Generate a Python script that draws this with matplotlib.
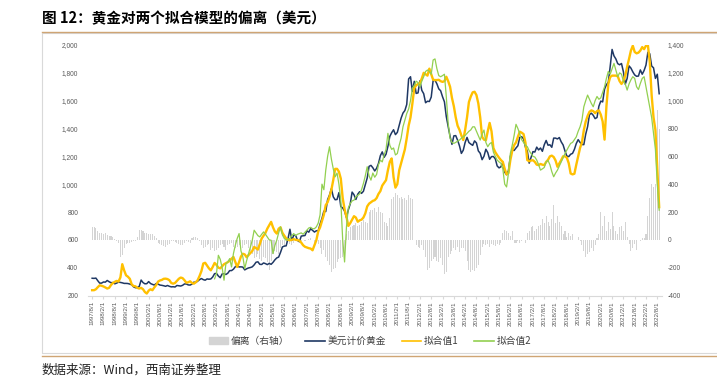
import numpy as np
import pandas as pd
import matplotlib
matplotlib.use("Agg")
import matplotlib.pyplot as plt
from matplotlib.patches import Patch, Rectangle
from matplotlib.lines import Line2D

plt.rcParams['font.family'] = ['Noto Sans CJK SC', 'DejaVu Sans']

# monthly data, 1997/8 .. 2022/9
months = pd.date_range("1997-08-01", "2022-09-01", freq="MS")

gold = [
    324, 323, 325, 306, 289,
    289, 297, 296, 308, 299, 292, 293, 284, 289, 296, 294, 291,
    287, 287, 286, 282, 277, 262, 256, 257, 265, 311, 293, 284,
    285, 300, 286, 280, 275, 286, 282, 275, 273, 270, 266, 272,
    266, 262, 263, 261, 272, 270, 268, 273, 283, 283, 276, 275,
    282, 296, 294, 303, 314, 322, 314, 310, 319, 317, 319, 333,
    357, 359, 340, 328, 355, 356, 351, 360, 379, 379, 389, 407,
    414, 405, 406, 404, 384, 392, 398, 401, 406, 420, 439, 442,
    424, 423, 434, 429, 422, 431, 424, 438, 456, 470, 476, 510,
    549, 555, 557, 610, 676, 596, 633, 632, 598, 586, 627, 629,
    631, 665, 655, 680, 668, 656, 665, 665, 713, 754, 806, 803,
    889, 922, 968, 909, 888, 890, 939, 839, 829, 806, 760, 816,
    858, 943, 924, 890, 928, 946, 934, 949, 996, 1044, 1128, 1135,
    1118, 1095, 1114, 1149, 1205, 1232, 1193, 1215, 1271, 1343, 1370, 1391,
    1356, 1372, 1424, 1474, 1511, 1529, 1573, 1756, 1772, 1666, 1739, 1652,
    1656, 1743, 1674, 1650, 1585, 1596, 1594, 1626, 1744, 1747, 1721, 1685,
    1671, 1628, 1592, 1485, 1414, 1343, 1286, 1347, 1349, 1316, 1275, 1221,
    1244, 1300, 1336, 1299, 1288, 1279, 1311, 1296, 1239, 1222, 1176, 1201,
    1251, 1227, 1179, 1198, 1199, 1182, 1131, 1117, 1125, 1157, 1086, 1068,
    1097, 1200, 1246, 1242, 1260, 1276, 1337, 1341, 1326, 1266, 1238, 1151,
    1192, 1234, 1231, 1266, 1246, 1260, 1236, 1283, 1314, 1280, 1283, 1265,
    1331, 1331, 1325, 1335, 1304, 1282, 1238, 1202, 1198, 1215, 1221, 1250,
    1292, 1320, 1300, 1285, 1284, 1359, 1413, 1500, 1510, 1495, 1471, 1479,
    1560, 1597, 1591, 1683, 1715, 1732, 1846, 1968, 1922, 1900, 1866, 1858,
    1867, 1808, 1718, 1760, 1850, 1834, 1807, 1785, 1775, 1777, 1821, 1790,
    1817, 1856, 1948, 1937, 1849, 1836, 1760, 1790, 1650,
]

fit1 = [
    238, 238, 245, 260, 273,
    270, 265, 258, 250, 255, 275, 290, 298, 305, 300, 330, 425,
    380, 345, 335, 320, 280, 268, 266, 255, 250, 255, 245, 225,
    214, 235, 245, 238, 258, 275, 300, 308, 312, 320, 321, 318,
    310, 290, 285, 290, 305, 320, 329, 325, 310, 292, 295, 302,
    290, 285, 295, 310, 340, 375, 430, 435, 415, 395, 381, 405,
    434, 420, 400, 395, 410, 425, 432, 440, 450, 465, 477, 440,
    405, 440, 480, 500, 495, 475, 490, 505, 520, 549, 540, 530,
    570, 610, 630, 650, 681, 705, 729, 690, 660, 645, 680, 690,
    650, 630, 610, 600, 597, 600, 605, 600, 598, 595, 580, 561,
    550, 545, 540, 537, 525, 560, 597, 660, 690, 735, 780, 850,
    870, 909, 960, 1030, 1110, 1110, 1090, 1040, 900, 820, 765, 700,
    720, 745, 770, 760, 730, 740, 745, 760, 790, 840, 860, 870,
    880, 885, 900, 930, 950, 990, 1010, 1029, 1100, 1160, 1185, 1050,
    975, 1000, 1100, 1150, 1197, 1250, 1330, 1420, 1480, 1580, 1690, 1710,
    1720, 1725, 1760, 1800, 1790, 1780, 1830, 1790, 1750, 1748, 1748, 1750,
    1740, 1735, 1740, 1772, 1740, 1700, 1620, 1560, 1480, 1420, 1390, 1350,
    1317, 1390, 1480, 1590, 1630, 1660, 1664, 1640, 1580, 1480, 1340, 1320,
    1315, 1380, 1440, 1380, 1260, 1230, 1209, 1190, 1173, 1160, 1110, 1070,
    1080, 1173, 1240, 1280, 1300, 1340, 1377, 1370, 1360, 1300, 1173, 1165,
    1170, 1172, 1160, 1140, 1137, 1145, 1140, 1137, 1160, 1175, 1200, 1205,
    1195, 1170, 1125, 1150, 1173, 1200, 1200, 1190, 1150, 1077, 1070, 1075,
    1140, 1200, 1260, 1300, 1388, 1450, 1490, 1520, 1530, 1525, 1510, 1525,
    1530, 1500, 1450, 1320, 1560, 1720, 1770, 1780, 1780, 1780, 1775, 1740,
    1720, 1740, 1780, 1844, 1900, 1960, 1995, 1950, 1940, 1945, 1960, 1985,
    1970, 1995, 2000, 1880, 1640, 1480, 1390, 1120, 835,
]

# second fit starts in 2003/1
fit2_start = "2003-01-01"
fit2 = [
    320, 357, 489, 460, 400, 310, 429, 440, 465, 405, 501, 561,
    610, 645, 520, 477, 393, 450, 500, 549, 597, 669, 650, 630,
    621, 640, 657, 640, 620, 600, 597, 501, 560, 597, 650, 693,
    635, 610, 597, 605, 610, 630, 645, 630, 640, 645, 650, 640,
    655, 669, 685, 690, 680, 680, 693, 720, 780, 1000, 960, 1100,
    1200, 1269, 1180, 1110, 1053, 1080, 1000, 880, 600, 441, 693, 830,
    860, 880, 885, 909, 920, 930, 960, 1005, 1060, 1125, 1060, 1029,
    1080, 1050, 1070, 1140, 1173, 1160, 1210, 1250, 1365, 1280, 1250, 1260,
    1210, 1220, 1280, 1330, 1412, 1460, 1508, 1540, 1600, 1690, 1710, 1740,
    1730, 1700, 1740, 1772, 1810, 1820, 1810, 1790, 1892, 1900, 1830, 1780,
    1772, 1780, 1790, 1628, 1436, 1330, 1300, 1293, 1300, 1310, 1317, 1330,
    1340, 1350, 1365, 1380, 1390, 1412, 1412, 1380, 1350, 1317, 1360, 1389,
    1300, 1269, 1290, 1300, 1230, 1200, 1173, 1160, 1150, 1110, 1000, 980,
    1080, 1221, 1280, 1350, 1430, 1400, 1360, 1320, 1300, 1280, 1269, 1240,
    1220, 1200, 1195, 1173, 1140, 1101, 1110, 1120, 1160, 1170, 1140, 1090,
    1053, 1080, 1101, 1130, 1160, 1190, 1220, 1245, 1270, 1293, 1300, 1320,
    1340, 1380, 1412, 1460, 1556, 1600, 1640, 1610, 1580, 1556, 1600, 1630,
    1610, 1620, 1660, 1700, 1760, 1810, 1790, 1830, 1868, 1820, 1772, 1800,
    1790, 1740, 1720, 1676, 1720, 1750, 1772, 1760, 1700, 1680, 1724, 1760,
    1772, 1700, 1628, 1560, 1480, 1365, 1250, 1000, 813,
]

deviation = [
    93, 90, 85, 60, 50,
    50, 45, 50, 35, 30, 30, 20, 5, -10, -20, -120, -110,
    -60, -30, -25, -20, -15, -10, -10, 20, 70, 74, 60, 50,
    50, 45, 40, 40, 30, 10, -20, -30, -40, -45, -50, -40,
    -30, -10, -10, -15, -20, -30, -40, -35, -20, -10, -15, -20,
    15, 20, 20, 15, -10, -40, -60, -50, -40, -30, -75, -60,
    -80, -70, -60, -40, -30, -50, -75, -40, -30, -20, -50, -60,
    -50, -40, -30, -60, -40, -30, -60, -80, -100, -130, -120, -100,
    -140, -150, -120, -130, -160, -218, -150, -100, -80, -90, -100, -60,
    -40, -50, -30, 0, -30, -40, -20, -10, -15, -10, -5, 0,
    -10, 0, 5, 10, 0, -20, -10, -30, -60, -100, -70, -120,
    -150, -180, -230, -210, -200, -160, -140, -130, -120, -100, 40, 60,
    93, 100, 110, 120, 100, 110, 130, 140, 130, 120, 200, 213,
    215, 230, 200, 237, 200, 190, 130, 120, 100, 160, 290, 310,
    333, 320, 300, 310, 290, 300, 285, 320, 300, 290, 0, -40,
    -50, -60, -40, -70, -120, -218, -200, -150, -140, -120, -150, -160,
    -130, -180, -242, -230, -120, -100, -80, -60, -70, -50, -90, -60,
    -60, -80, -150, -218, -230, -220, -225, -200, -180, -110, -50, -30,
    -40, -30, -50, -27, -40, -45, -30, -40, -20, 50, 70, 60,
    50, 30, 60, -20, -20, -10, -20, -10, 0, -20, 50, 60,
    90, 100, 60, 80, 100, 110, 150, 120, 170, 130, 100, 150,
    250, 120, 170, 130, 100, 40, 60, 20, 50, 30, 40, 0,
    0, 20, -10, -40, -80, -120, -100, -90, -60, -80, -40, 10,
    40, 201, 100, 170, 60, 130, 80, 200, 100, 60, 40, 90,
    100, 60, 130, 20, -30, -80, -60, -30, -70, 0, -10, 10,
    10, 40, 170, 300, 400, 380, 400, 930, 800,
]

tick_labels = [f"{d.year}/{d.month}/1" for d in months[::6]]

x = np.arange(len(months))
x2 = np.arange(months.get_loc(pd.Timestamp(fit2_start)), len(months))

W, H = 717, 386
fig = plt.figure(figsize=(W / 100, H / 100), dpi=100)
ax = fig.add_axes([88 / W, 1 - 295.5 / H, (662 - 88) / W, (295.5 - 45) / H])
ax2 = ax.twinx()

ax2.bar(x, deviation, width=0.55, color='#d4d4d4', linewidth=0)
ax.plot(x, gold, color='#1f3864', lw=1.1, label='美元计价黄金')
ax.plot(x, fit1, color='#ffc000', lw=1.7, label='拟合值1')
ax.plot(x2, fit2, color='#92d050', lw=0.9, label='拟合值2')

ax.set_zorder(ax2.get_zorder() + 1)
ax.patch.set_visible(False)

ax.set_xlim(-2.2, 302.5)
ax.set_ylim(200, 2000)
ax.set_yticks(range(200, 2001, 200))
ax.yaxis.set_major_formatter(lambda v, p: f"{int(v):,}")
ax2.set_ylim(-400, 1400)
ax2.set_yticks(range(-400, 1401, 200))
ax2.yaxis.set_major_formatter(lambda v, p: f"{int(v):,}")

ax.set_xticks(x[::6])
ax.set_xticklabels(tick_labels, rotation=90, fontsize=4.5, color='#595959',
                   family='Liberation Sans')
ax.tick_params(axis='x', length=2, color='#d9d9d9', pad=2)
ax.tick_params(axis='y', length=0, pad=7, labelsize=4.8, labelcolor='#595959')
ax2.tick_params(axis='y', length=0, pad=4, labelsize=4.8, labelcolor='#595959')
for lab in ax.get_yticklabels() + ax2.get_yticklabels():
    lab.set_family('Liberation Sans')

for s in ['top', 'left', 'right']:
    ax.spines[s].set_visible(False)
for s in ax2.spines.values():
    s.set_visible(False)
ax.spines['bottom'].set_color('#d9d9d9')
ax.spines['bottom'].set_linewidth(0.8)

handles = [Patch(color='#d4d4d4'),
           Line2D([], [], color='#1f3864', lw=1.2),
           Line2D([], [], color='#ffc000', lw=1.2),
           Line2D([], [], color='#92d050', lw=1.2)]
labels = ['偏离（右轴）', '美元计价黄金', '拟合值1', '拟合值2']
leg = fig.legend(handles, labels, loc='center', bbox_to_anchor=(370 / W, 1 - 341 / H),
                 ncol=4, frameon=False, fontsize=7, handlelength=2.0,
                 handleheight=0.6, handletextpad=0.3, columnspacing=1.6)
for t in leg.get_texts():
    t.set_color('#404040')

fig.text(42 / W, 1 - 18 / H, "图 12：黄金对两个拟合模型的偏离（美元）",
         fontsize=10.5, fontweight='bold', va='center', ha='left')
fig.text(42 / W, 1 - 370 / H, "数据来源：Wind，西南证券整理",
         fontsize=9, style='italic', va='center', ha='left', color='#222222')

fig.add_artist(Rectangle((42 / W, 1 - 353 / H), 1.0, (353 - 33) / H,
                         fill=False, ec='#d9d9d9', lw=0.8))
fig.add_artist(Line2D([42 / W, 1], [1 - 32 / H] * 2, color='#cfa574', lw=1.0))
fig.add_artist(Line2D([42 / W, 1], [1 - 355.5 / H] * 2, color='#cfa574', lw=1.0))

fig.savefig("out.png", dpi=100)
